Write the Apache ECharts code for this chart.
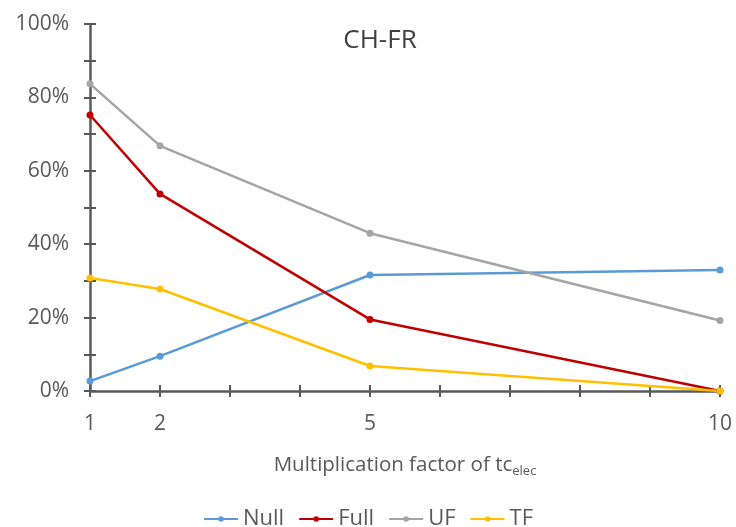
<!DOCTYPE html>
<html>
<head>
<meta charset="utf-8">
<script src="https://cdn.jsdelivr.net/npm/echarts@6/dist/echarts.min.js"></script>
<style>
  html, body { margin: 0; padding: 0; background: #fff; }
  #chart { width: 736px; height: 527px; }
</style>
</head>
<body>
<div id="chart"></div>
<script>
  // multiplication factor of tc_elec
  var factors = [1, 2, 5, 10];
  var xTickLabels = [1, 2, 5, 10];
  var yTickLabels = [0, 20, 40, 60, 80, 100];

  // shares in percent
  var nullVals = [2.7, 9.5, 31.6, 33.0];
  var fullVals = [75.2, 53.7, 19.5, 0];
  var ufVals = [83.7, 66.8, 43.0, 19.2];
  var tfVals = [30.8, 27.8, 6.8, 0];

  var axisColor = '#595959';
  var textColor = '#595959';
  var font = 'Open Sans';

  function pairs(vals) {
    return factors.map(function (f, i) { return [f, vals[i]]; });
  }

  function mkSeries(name, vals, color) {
    return {
      name: name,
      type: 'line',
      xAxisIndex: 0,
      yAxisIndex: 0,
      data: pairs(vals),
      symbol: 'circle',
      symbolSize: 7,
      lineStyle: { width: 2.5, color: color },
      itemStyle: { color: color },
      emphasis: { disabled: true }
    };
  }

  var chart = echarts.init(document.getElementById('chart'));

  chart.setOption({
    animation: false,
    textStyle: { fontFamily: font },
    title: {
      text: 'CH-FR',
      left: 375,
      top: 23,
      textAlign: 'center',
      textStyle: { color: '#404040', fontSize: 26, fontWeight: 'normal', fontFamily: font }
    },
    legend: {
      top: 503,
      left: 'center',
      itemWidth: 34,
      itemHeight: 7,
      itemGap: 14,
      textStyle: { color: textColor, fontSize: 22, fontFamily: font },
      data: ['Null', 'Full', 'UF', 'TF']
    },
    grid: { left: 90, right: 16, top: 24, bottom: 136 },
    xAxis: [
      {
        type: 'value',
        min: 1,
        max: 10,
        interval: 1,
        axisLine: { lineStyle: { color: axisColor, width: 2.5 } },
        axisTick: { show: true, length: 6, lineStyle: { color: axisColor, width: 2 } },
        splitLine: { show: false },
        axisLabel: {
          color: textColor,
          fontSize: 21,
          margin: 23,
          fontFamily: font,
          formatter: function (v) { return xTickLabels.indexOf(v) >= 0 ? String(v) : ''; }
        },
        name: '{a|Multiplication factor of tc}{b|elec}',
        nameLocation: 'middle',
        nameGap: 62,
        nameTextStyle: {
          rich: {
            a: { color: textColor, fontSize: 20.5, fontFamily: font },
            b: { color: textColor, fontSize: 13, fontFamily: font, padding: [12, 0, 0, 0] }
          }
        }
      },
      {
        // inside half of the crossing ticks
        type: 'value',
        min: 1,
        max: 10,
        interval: 1,
        position: 'bottom',
        axisLine: { show: false },
        axisTick: { show: true, inside: true, length: 6, lineStyle: { color: axisColor, width: 2 } },
        axisLabel: { show: false },
        splitLine: { show: false }
      }
    ],
    yAxis: [
      {
        type: 'value',
        min: 0,
        max: 100,
        interval: 10,
        axisLine: { show: true, lineStyle: { color: axisColor, width: 2.5 } },
        axisTick: { show: true, length: 6, lineStyle: { color: axisColor, width: 2 } },
        splitLine: { show: false },
        axisLabel: {
          color: textColor,
          fontSize: 21,
          margin: 21,
          fontFamily: font,
          formatter: function (v) { return yTickLabels.indexOf(v) >= 0 ? v + '%' : ''; }
        }
      },
      {
        type: 'value',
        min: 0,
        max: 100,
        interval: 10,
        position: 'left',
        axisLine: { show: false },
        axisTick: { show: true, inside: true, length: 6, lineStyle: { color: axisColor, width: 2 } },
        axisLabel: { show: false },
        splitLine: { show: false }
      }
    ],
    series: [
      mkSeries('Null', nullVals, '#5B9BD5'),
      mkSeries('Full', fullVals, '#C00000'),
      mkSeries('UF', ufVals, '#A5A5A5'),
      mkSeries('TF', tfVals, '#FFC000')
    ]
  });
</script>
</body>
</html>
